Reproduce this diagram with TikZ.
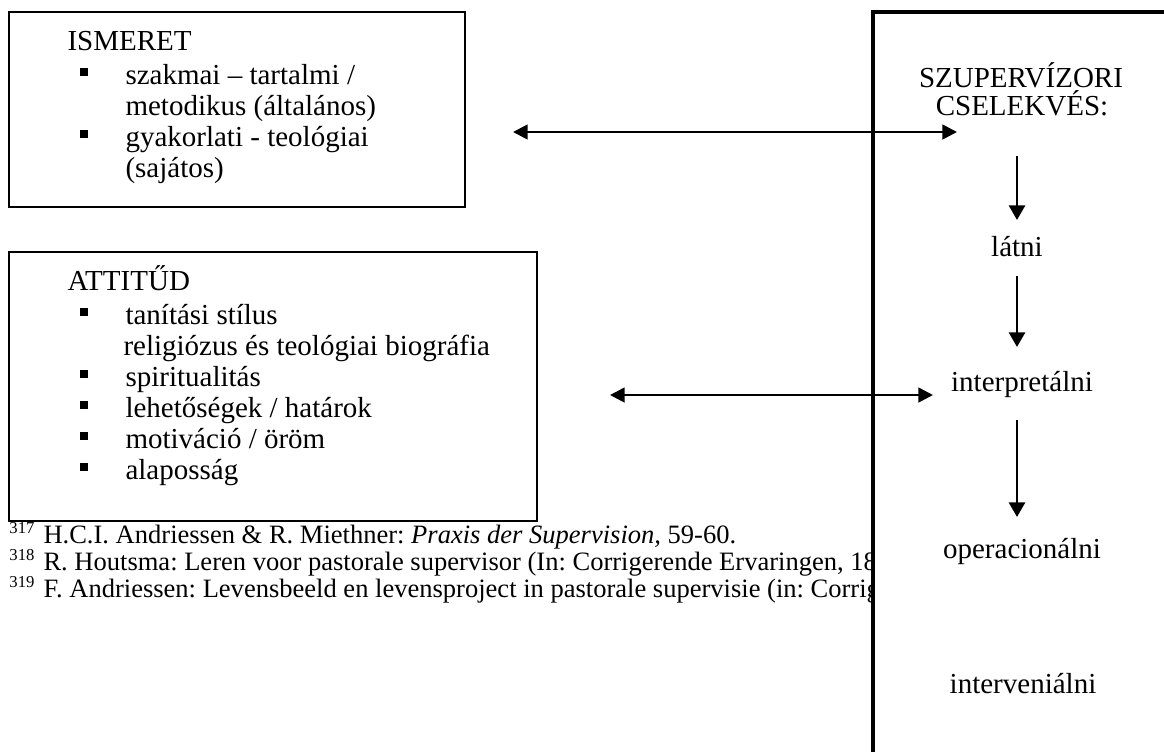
\documentclass[tikz,border=0pt]{standalone}
\usepackage{fontspec}
\setmainfont{Liberation Serif}
\usetikzlibrary{arrows.meta}
\frenchspacing

\tikzset{every picture/.style={line width=0.75pt}}
\tikzset{
  boxline/.style={line width=1pt},
  frameline/.style={line width=2.5pt},
  flowarrow/.style={line width=2.2pt,-{Triangle[length=11pt,width=12pt]}},
  botharrow/.style={line width=2pt,{Triangle[length=11pt,width=11pt]}-{Triangle[length=11pt,width=11pt]}},
  bodytext/.style={inner sep=0pt,font=\fontsize{21.75}{23}\selectfont},
  notetext/.style={inner sep=0pt,font=\fontsize{19.9}{22}\selectfont},
  notemark/.style={inner sep=0pt,font=\fontsize{12.5}{13}\selectfont},
  bulletsq/.style={fill,inner sep=0pt,minimum size=5.5pt},
}

\begin{document}
\begin{tikzpicture}[x=0.75pt,y=0.75pt,yscale=-1,xscale=1]
\useasboundingbox (0,0) rectangle (1164,751);

%Shape: Rectangle [ISMERET]
\draw [boxline] (9,12) rectangle (465,207) ;
%Shape: Rectangle [ATTITUD]
\draw [boxline] (9,252) rectangle (537,521) ;
%Shape: Frame [right column]
\draw [frameline] (873,760) -- (873,12) -- (1170,12) ;

% Text Node
\node (ismTitle) [bodytext,anchor=base west] at (67,50) {ISMERET};
\node (ismBulA) [bulletsq] at (84,72) {};
\node (ismItemA) [bodytext,anchor=base west] at (125,84) {szakmai – tartalmi /};
\node (ismItemB) [bodytext,anchor=base west] at (125,115) {metodikus (általános)};
\node (ismBulB) [bulletsq] at (84,134) {};
\node (ismItemC) [bodytext,anchor=base west] at (125,146) {gyakorlati - teológiai};
\node (ismItemD) [bodytext,anchor=base west] at (125,177) {(sajátos)};

% Text Node
\node (attTitle) [bodytext,anchor=base west] at (67,290) {ATTITŰD};
\node (attBulA) [bulletsq] at (84,312) {};
\node (attItemA) [bodytext,anchor=base west] at (125,324) {tanítási stílus};
\node (attItemB) [bodytext,anchor=base west] at (123,355) {religiózus és teológiai biográfia};
\node (attBulC) [bulletsq] at (84,374) {};
\node (attItemC) [bodytext,anchor=base west] at (125,386) {spiritualitás};
\node (attBulD) [bulletsq] at (84,405) {};
\node (attItemD) [bodytext,anchor=base west] at (125,417) {lehetőségek / határok};
\node (attBulE) [bulletsq] at (84,436) {};
\node (attItemE) [bodytext,anchor=base west] at (125,448) {motiváció / öröm};
\node (attBulF) [bulletsq] at (84,467) {};
\node (attItemF) [bodytext,anchor=base west] at (125,479) {alaposság};

% Footnotes, cut off by the frame
\begin{scope}
\clip (0,515) rectangle (871,620);
\node (noteMarkA) [notemark,anchor=base west] at (9,533) {317};
\node (noteA) [notetext,anchor=base west] at (43,543) {H.C.I. Andriessen \& R. Miethner: \textit{Praxis der Supervision,} 59-60.};
\node (noteMarkB) [notemark,anchor=base west] at (9,560) {318};
\node (noteB) [notetext,anchor=base west] at (43,570) {R. Houtsma: Leren voor pastorale supervisor (In: Corrigerende Ervaringen, 18};
\node (noteMarkC) [notemark,anchor=base west] at (9,587) {319};
\node (noteC) [notetext,anchor=base west] at (43,597) {F. Andriessen: Levensbeeld en levensproject in pastorale supervisie (in: Corrigerende};
\end{scope}

% Text Node
\node (actTitleA) [bodytext,anchor=base] at (1021,87) {SZUPERVÍZORI};
\node (actTitleB) [bodytext,anchor=base] at (1022,115) {CSELEKVÉS:};
\node (seeing) [bodytext,anchor=base] at (1017,256) {látni};
\node (interpret) [bodytext,anchor=base] at (1022,391) {interpretálni};
\node (operate) [bodytext,anchor=base] at (1022,558) {operacionálni};
\node (intervene) [bodytext,anchor=base] at (1023,693) {interveniálni};

% Arrow ends
\coordinate (ismLink) at (513,132);
\coordinate (actLink) at (957,132);
\coordinate (attLink) at (610,395);
\coordinate (intLink) at (933,395);
\coordinate (stepAtop) at (1017,156);
\coordinate (stepAbot) at (1017,220);
\coordinate (stepBtop) at (1017,276);
\coordinate (stepBbot) at (1017,347);
\coordinate (stepCtop) at (1017,420);
\coordinate (stepCbot) at (1017,517);

%Straight Lines
\draw [botharrow] (ismLink) -- (actLink) ;
\draw [botharrow] (attLink) -- (intLink) ;
\draw [flowarrow] (stepAtop) -- (stepAbot) ;
\draw [flowarrow] (stepBtop) -- (stepBbot) ;
\draw [flowarrow] (stepCtop) -- (stepCbot) ;

\end{tikzpicture}
\end{document}
